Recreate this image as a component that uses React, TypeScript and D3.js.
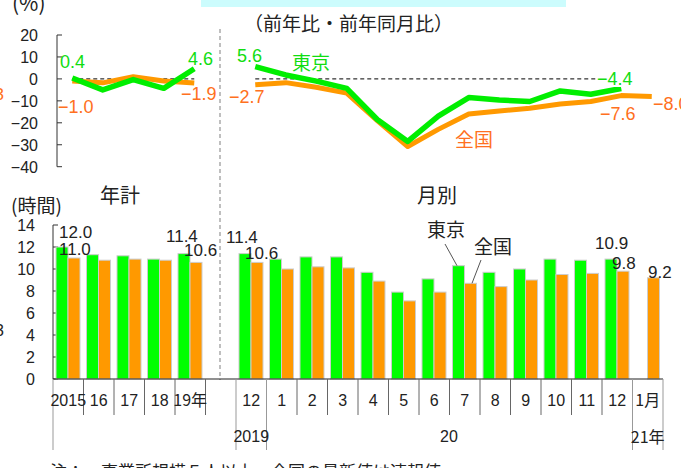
import React from 'react';
import * as d3 from 'd3';

const annualCats = ['2015', '16', '17', '18', '19年'];
const monthCats = ['12', '1', '2', '3', '4', '5', '6', '7', '8', '9', '10', '11', '12', '1月'];
const yearLabels = ['2019', '20', '21年'];

const annualTokyoHours = [12.0, 11.3, 11.2, 10.9, 11.4];
const annualZenkokuHours = [11.0, 10.8, 10.9, 10.8, 10.6];
const monthTokyoHours = [11.4, 10.9, 11.1, 11.1, 9.7, 7.9, 9.1, 10.3, 9.7, 10.0, 10.9, 10.8, 10.9];
const monthZenkokuHours = [10.6, 10.0, 10.2, 10.1, 8.9, 7.1, 7.9, 8.7, 8.4, 9.0, 9.5, 9.6, 9.8, 9.2];

const annualTokyoYoY = [0.4, -5.0, -0.3, -4.3, 4.6];
const annualZenkokuYoY = [-1.0, -1.8, 1.0, -1.0, -1.9];
const monthTokyoYoY = [5.6, 1.8, -1.0, -4.3, -18.5, -28.5, -17.0, -8.5, -9.6, -10.3, -5.5, -7.0, -4.4];
const monthZenkokuYoY = [-2.7, -1.7, -3.8, -6.5, -19.0, -30.8, -23.0, -16.0, -14.6, -13.4, -11.4, -10.3, -7.6, -8.0];

const topTicks = [20, 10, 0, -10, -20, -30, -40];
const botTicks = [14, 12, 10, 8, 6, 4, 2, 0];

const GREEN = '#00ff00';
const GREEN_LINE = '#00ee00';
const GREEN_TEXT = '#11dd11';
const ORANGE = '#ff9900';
const ORANGE_TEXT = '#ff7020';
const FONT = '"Liberation Sans", "Noto Sans CJK JP", sans-serif';
const JFONT = '"Noto Sans CJK JP", "Liberation Sans", sans-serif';

export default function App() {
  const keys = [
    ...annualCats.map((_, i) => 'a' + i),
    'gap',
    ...monthCats.map((_, i) => 'm' + i),
  ];
  const x = d3.scaleBand<string>().domain(keys).range([53, 663]).padding(0);
  const bw = x.bandwidth();
  const yTop = d3.scaleLinear().domain([-40, 20]).range([166.7, 35]);
  const yBot = d3.scaleLinear().domain([0, 14]).range([379, 225]);
  const off = 4;
  const cx = (k: string) => (x(k) as number) + bw / 2 + off;

  const line = d3
    .line<[number, number]>()
    .x((d) => d[0])
    .y((d) => yTop(d[1]));

  const aKeys = annualCats.map((_, i) => 'a' + i);
  const mKeys = monthCats.map((_, i) => 'm' + i);

  const pathOf = (ks: string[], vals: number[]) =>
    line(vals.map((v, i) => [cx(ks[i]), v] as [number, number])) || '';

  const bars: React.ReactNode[] = [];
  const addBars = (ks: string[], g: number[], o: number[]) => {
    ks.forEach((k, i) => {
      const x0 = x(k) as number;
      if (g[i] !== undefined) {
        bars.push(
          <rect key={'g' + k} x={x0 + 3} y={yBot(g[i])} width={12} height={yBot(0) - yBot(g[i])}
            fill={GREEN} stroke="#cccccc" strokeWidth={1} />
        );
      }
      if (o[i] !== undefined) {
        bars.push(
          <rect key={'o' + k} x={x0 + 15} y={yBot(o[i])} width={12} height={yBot(0) - yBot(o[i])}
            fill={ORANGE} stroke="#cccccc" strokeWidth={1} />
        );
      }
    });
  };
  addBars(aKeys, annualTokyoHours, annualZenkokuHours);
  addBars(mKeys, monthTokyoHours, monthZenkokuHours);

  const fmt = (v: number) => (v < 0 ? '−' + Math.abs(v).toFixed(1) : v.toFixed(1));

  const boundaries: { x: number; long: boolean }[] = [];
  aKeys.forEach((k, i) => boundaries.push({ x: x(k) as number, long: i === 0 }));
  boundaries.push({ x: (x('a4') as number) + bw, long: false });
  mKeys.forEach((k, i) => boundaries.push({ x: x(k) as number, long: i === 0 || i === 1 || i === 13 }));
  boundaries.push({ x: (x('m13') as number) + bw, long: true });

  const lastA = aKeys.length - 1;
  const lastMG = monthTokyoYoY.length - 1;
  const lastMO = monthZenkokuYoY.length - 1;

  return (
    <svg width={681} height={468} style={{ position: 'absolute', left: 0, top: 0, background: '#fff' }}
      fontFamily={FONT}>
      <rect x={201} y={0} width={365} height={7} fill="#ccfcfd" />

      {/* clipped fragments at left edge */}
      <text x={4} y={100} fontSize={17} fill={ORANGE_TEXT} textAnchor="end">3</text>
      <text x={4} y={336} fontSize={16} fill="#222" textAnchor="end">3</text>

      {/* titles */}
      <text x={12} y={11} fontSize={21} fill="#222" fontFamily={JFONT}>(%)</text>
      <text x={244} y={31} fontSize={19} fill="#222" fontFamily={JFONT}>（前年比・前年同月比）</text>
      <text x={120} y={203} fontSize={20} fill="#222" textAnchor="middle" fontFamily={JFONT}>年計</text>
      <text x={437} y={203} fontSize={20} fill="#222" textAnchor="middle" fontFamily={JFONT}>月別</text>
      <text x={11} y={213} fontSize={19} fill="#222" fontFamily={JFONT}>(時間)</text>

      {/* separator */}
      <line x1={220} x2={220} y1={29} y2={380} stroke="#aaaaaa" strokeWidth={1.5} strokeDasharray="4,3" />

      {/* top axis */}
      <line x1={57} x2={57} y1={yTop(20)} y2={yTop(-40)} stroke="#333" strokeWidth={1} />
      {topTicks.map((t) => (
        <g key={'tt' + t}>
          <line x1={57} x2={62} y1={yTop(t)} y2={yTop(t)} stroke="#333" />
          <text x={38} y={yTop(t) + 6} fontSize={16} textAnchor="end" fill="#222">{t < 0 ? '−' + Math.abs(t) : t}</text>
        </g>
      ))}

      {/* zero dashed lines */}
      <line x1={cx('a0')} x2={cx('a4')} y1={yTop(0)} y2={yTop(0)} stroke="#000" strokeDasharray="4,3" />
      <line x1={cx('m0')} x2={597} y1={yTop(0)} y2={yTop(0)} stroke="#000" strokeDasharray="4,3" />

      {/* lines */}
      <path d={pathOf(aKeys, annualZenkokuYoY)} fill="none" stroke={ORANGE} strokeWidth={5} strokeLinejoin="round" />
      <path d={pathOf(mKeys, monthZenkokuYoY)} fill="none" stroke={ORANGE} strokeWidth={5} strokeLinejoin="round" />
      <path d={pathOf(aKeys, annualTokyoYoY)} fill="none" stroke={GREEN_LINE} strokeWidth={5.5} strokeLinejoin="round" />
      <path d={pathOf(mKeys, monthTokyoYoY)} fill="none" stroke={GREEN_LINE} strokeWidth={5.5} strokeLinejoin="round" />

      {/* line labels */}
      <text x={60} y={68} fontSize={18} fill={GREEN_TEXT}>{fmt(annualTokyoYoY[0])}</text>
      <text x={58} y={113} fontSize={18} fill={ORANGE_TEXT}>{fmt(annualZenkokuYoY[0])}</text>
      <text x={188} y={65} fontSize={18} fill={GREEN_TEXT}>{fmt(annualTokyoYoY[lastA])}</text>
      <text x={181} y={100} fontSize={18} fill={ORANGE_TEXT}>{fmt(annualZenkokuYoY[lastA])}</text>
      <text x={237} y={62} fontSize={18} fill={GREEN_TEXT}>{fmt(monthTokyoYoY[0])}</text>
      <text x={229} y={103} fontSize={18} fill={ORANGE_TEXT}>{fmt(monthZenkokuYoY[0])}</text>
      <text x={292} y={70} fontSize={19} fill={GREEN_TEXT} fontFamily={JFONT}>東京</text>
      <text x={455} y={147} fontSize={19} fill={ORANGE_TEXT} fontFamily={JFONT}>全国</text>
      <rect x={597} y={70} width={34} height={17} fill="#fff" />
      <text x={597} y={85} fontSize={18} fill={GREEN_TEXT}>{fmt(monthTokyoYoY[lastMG])}</text>
      <text x={600} y={120} fontSize={18} fill={ORANGE_TEXT}>{fmt(monthZenkokuYoY[lastMO - 1])}</text>
      <text x={653} y={110} fontSize={18} fill={ORANGE_TEXT}>{fmt(monthZenkokuYoY[lastMO])}</text>

      {/* bottom axis */}
      <line x1={53} x2={53} y1={yBot(14)} y2={yBot(0)} stroke="#333" strokeWidth={1} />
      {botTicks.map((t) => (
        <g key={'bt' + t}>
          <line x1={53} x2={58} y1={yBot(t)} y2={yBot(t)} stroke="#333" />
          <text x={35} y={yBot(t) + 6} fontSize={16} textAnchor="end" fill="#222">{t}</text>
        </g>
      ))}

      {bars}

      {/* bar labels */}
      <text x={59} y={238} fontSize={17} fill="#222">{annualTokyoHours[0].toFixed(1)}</text>
      <text x={59} y={255} fontSize={17} fill="#222">{annualZenkokuHours[0].toFixed(1)}</text>
      <text x={166} y={242} fontSize={17} fill="#222">{annualTokyoHours[lastA].toFixed(1)}</text>
      <text x={184} y={256} fontSize={17} fill="#222">{annualZenkokuHours[lastA].toFixed(1)}</text>
      <text x={226} y={243} fontSize={17} fill="#222">{monthTokyoHours[0].toFixed(1)}</text>
      <text x={245} y={259} fontSize={17} fill="#222">{monthZenkokuHours[0].toFixed(1)}</text>
      <text x={595} y={249} fontSize={17} fill="#222">{monthTokyoHours[12].toFixed(1)}</text>
      <text x={612} y={269} fontSize={17} fill="#222">{monthZenkokuHours[12].toFixed(1)}</text>
      <text x={648} y={278} fontSize={17} fill="#222">{monthZenkokuHours[13].toFixed(1)}</text>

      {/* annotations */}
      <text x={446} y={237} fontSize={19} fill="#222" textAnchor="middle" fontFamily={JFONT}>東京</text>
      <line x1={445} y1={244} x2={457} y2={(yBot(monthTokyoHours[7]))} stroke="#555" />
      <text x={493} y={254} fontSize={19} fill="#222" textAnchor="middle" fontFamily={JFONT}>全国</text>
      <line x1={481} y1={260} x2={472} y2={yBot(monthZenkokuHours[7])} stroke="#555" />

      {/* x axis */}
      <line x1={53} x2={663} y1={379} y2={379} stroke="#222" strokeWidth={1.2} />
      {boundaries.map((b, i) => (
        <line key={'xb' + i} x1={b.x} x2={b.x} y1={379} y2={b.long ? 450 : 415}
          stroke={b.long ? '#999' : '#666'} strokeWidth={1} />
      ))}
      {annualCats.map((c, i) => (
        <text key={'ac' + i} x={(x(aKeys[i]) as number) + bw / 2} y={406} fontSize={16} fill="#222"
          textAnchor="middle" fontFamily={c.includes('年') ? JFONT : FONT}>{c}</text>
      ))}
      {monthCats.map((c, i) => (
        <text key={'mc' + i} x={(x(mKeys[i]) as number) + bw / 2} y={406} fontSize={16} fill="#222"
          textAnchor="middle" fontFamily={c.includes('月') ? JFONT : FONT}>{c}</text>
      ))}
      <text x={(x('m0') as number) + bw / 2} y={442} fontSize={16} fill="#222" textAnchor="middle">{yearLabels[0]}</text>
      <text x={449} y={442} fontSize={16} fill="#222" textAnchor="middle">{yearLabels[1]}</text>
      <text x={(x('m13') as number) + bw / 2} y={443} fontSize={16} fill="#222" textAnchor="middle" fontFamily={JFONT}>{yearLabels[2]}</text>

      {/* footnote (cut off) */}
      <text x={50} y={478} fontSize={17} fill="#222" fontFamily={JFONT}>注：　事業所規模５人以上、全国の最新値は速報値</text>
    </svg>
  );
}
